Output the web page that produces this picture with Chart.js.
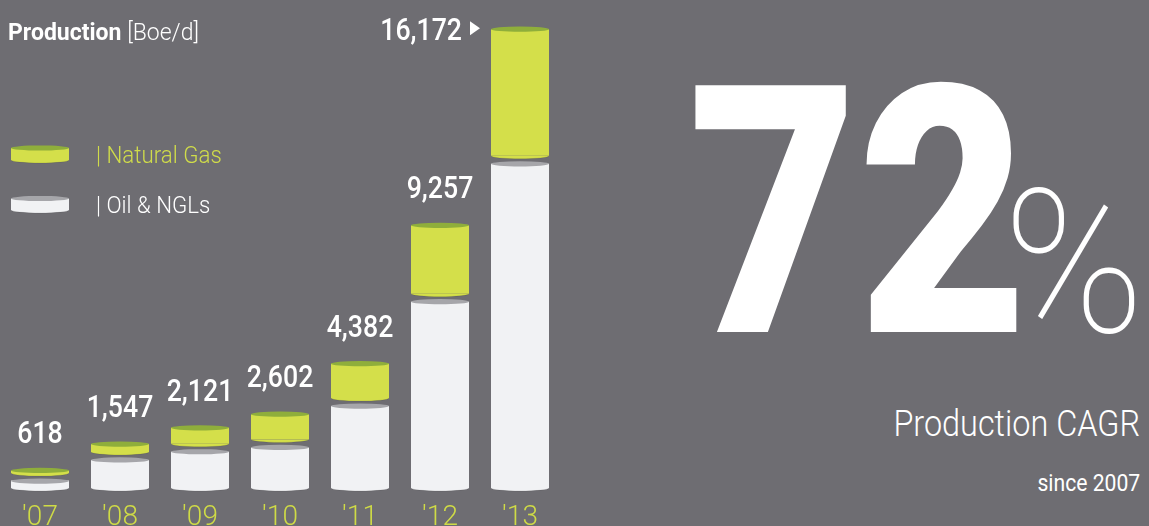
<!DOCTYPE html>
<html>
<head>
<meta charset="utf-8">
<script src="https://cdn.jsdelivr.net/npm/chart.js@4.4.1/dist/chart.umd.min.js"></script>
<style>
  html, body { margin: 0; padding: 0; background: #6e6d72; overflow: hidden; }
  #page { position: relative; width: 1149px; height: 526px; font-family: Roboto, sans-serif; color: #fff; }
  #chartBox { position: absolute; left: 0; top: 0; width: 560px; height: 526px; }
  .t { position: absolute; line-height: 1; white-space: nowrap; }
</style>
</head>
<body>
<div id="page">
  <div id="chartBox"><canvas id="prod"></canvas></div>

  <div class="t" style="left:8px; top:21px; font-size:23px;"><b>Production</b> <span style="font-weight:300">[Boe/d]</span></div>

  <div class="t" style="left:96px; top:143px; font-size:24px; font-weight:300; color:#d0dc4a; transform:scaleX(0.93); transform-origin:left;">| Natural Gas</div>
  <div class="t" style="left:96px; top:193px; font-size:24px; font-weight:300; transform:scaleX(0.93); transform-origin:left;">| Oil &amp; NGLs</div>

  <div class="t" style="left:688px; top:40px; font-size:347px; font-weight:900; transform:scaleX(0.845); transform-origin:left;">72</div>
  <div class="t" style="left:1003px; top:164px; font-size:200px; font-weight:100; transform:scaleX(0.95); transform-origin:left;">%</div>

  <div class="t" style="right:9px; top:406px; font-size:36px; font-weight:300; transform:scaleX(0.9); transform-origin:right;">Production CAGR</div>
  <div class="t" style="right:9px; top:472px; font-size:23.5px; font-weight:400; transform:scaleX(0.9); transform-origin:right;">since 2007</div>
</div>

<script>
// 데이터
const years = ["'07", "'08", "'09", "'10", "'11", "'12", "'13"];
const oilNgl = [525, 1270, 1559, 1712, 3168, 6848, 11709];
const naturalGas = [93, 277, 562, 890, 1214, 2409, 4463];

const BG = '#6e6d72';
const GREEN = '#d4df4a';
const GREEN_TOP = '#8fae3b';
const WHITE = '#f1f2f4';
const WHITE_TOP = '#a6a6aa';

// 원통 모양 그리기
function cylinderCaps(ctx, x, top, bottom, w, body, cap) {
  const rx = w / 2;
  const ry = 3;
  // 아래 볼록한 부분
  ctx.beginPath();
  ctx.ellipse(x, bottom, rx, ry, 0, 0, Math.PI);
  ctx.fillStyle = body;
  ctx.fill();
  ctx.beginPath();
  ctx.ellipse(x, bottom, rx, ry, 0, 0.15, Math.PI - 0.15);
  ctx.strokeStyle = 'rgba(0,0,0,0.1)';
  ctx.lineWidth = 1;
  ctx.stroke();
  // 윗면
  ctx.beginPath();
  ctx.ellipse(x, top, rx, 2.6, 0, 0, Math.PI * 2);
  ctx.fillStyle = cap;
  ctx.fill();
}

const GAP = 8;

const cylinderPlugin = {
  id: 'cylinders',
  afterDatasetsDraw(chart) {
    const ctx = chart.ctx;
    ctx.save();
    const oilMeta = chart.getDatasetMeta(0);
    const gasMeta = chart.getDatasetMeta(1);

    oilMeta.data.forEach(el => {
      const p = el.getProps(['x', 'y', 'base', 'width'], true);
      cylinderCaps(ctx, p.x, p.y + GAP, p.base, p.width, WHITE, WHITE_TOP);
    });
    gasMeta.data.forEach(el => {
      const p = el.getProps(['x', 'y', 'base', 'width'], true);
      cylinderCaps(ctx, p.x, p.y, p.base, p.width, GREEN, GREEN_TOP);
    });

    // 범례 아이콘
    ctx.fillStyle = GREEN;
    ctx.fillRect(11, 148, 58, 12);
    ctx.fillStyle = WHITE;
    ctx.fillRect(11, 198.5, 58, 11.5);
    cylinderCaps(ctx, 40, 148, 160, 58, GREEN, GREEN_TOP);
    cylinderCaps(ctx, 40, 198.5, 210, 58, WHITE, WHITE_TOP);

    // 합계 라벨
    ctx.fillStyle = '#ffffff';
    ctx.font = '500 31px Roboto, sans-serif';
    ctx.textBaseline = 'alphabetic';
    const last = years.length - 1;
    gasMeta.data.forEach((el, i) => {
      const p = el.getProps(['x', 'y', 'width'], true);
      const total = (oilNgl[i] + naturalGas[i]).toLocaleString('en-US');
      ctx.save();
      if (i === last) {
        const right = p.x - p.width / 2 - 29;
        ctx.translate(right, p.y + 11);
        ctx.scale(0.86, 1);
        ctx.textAlign = 'right';
        ctx.fillText(total, 0, 0);
        ctx.restore();
        // 화살표
        const tx = p.x - p.width / 2 - 21;
        ctx.beginPath();
        ctx.moveTo(tx, p.y - 8);
        ctx.lineTo(tx + 10, p.y - 1);
        ctx.lineTo(tx, p.y + 6);
        ctx.closePath();
        ctx.fill();
      } else {
        ctx.translate(p.x, p.y - 27);
        ctx.scale(0.86, 1);
        ctx.textAlign = 'center';
        ctx.fillText(total, 0, 0);
        ctx.restore();
      }
    });
    ctx.restore();
  }
};

new Chart(document.getElementById('prod').getContext('2d'), {
  type: 'bar',
  data: {
    labels: years,
    datasets: [
      {
        label: 'Oil & NGLs',
        data: oilNgl,
        backgroundColor: WHITE,
        borderColor: BG,
        borderWidth: { top: GAP, left: 0, right: 0, bottom: 0 },
        borderSkipped: 'start'
      },
      {
        label: 'Natural Gas',
        data: naturalGas,
        backgroundColor: GREEN,
        borderWidth: 0
      }
    ]
  },
  options: {
    responsive: true,
    maintainAspectRatio: false,
    animation: false,
    events: [],
    layout: { padding: 0 },
    categoryPercentage: 1,
    barPercentage: 0.725,
    plugins: {
      legend: { display: false },
      tooltip: { enabled: false }
    },
    scales: {
      x: {
        stacked: true,
        grid: { display: false, drawTicks: false },
        border: { display: false },
        ticks: {
          color: '#cfdb46',
          padding: 13,
          font: { family: 'Roboto, sans-serif', size: 28, weight: '300' }
        },
        afterFit(scale) { scale.height = 38; }
      },
      y: {
        stacked: true,
        display: false,
        min: 0,
        max: 17200
      }
    }
  },
  plugins: [cylinderPlugin]
});
</script>
</body>
</html>
